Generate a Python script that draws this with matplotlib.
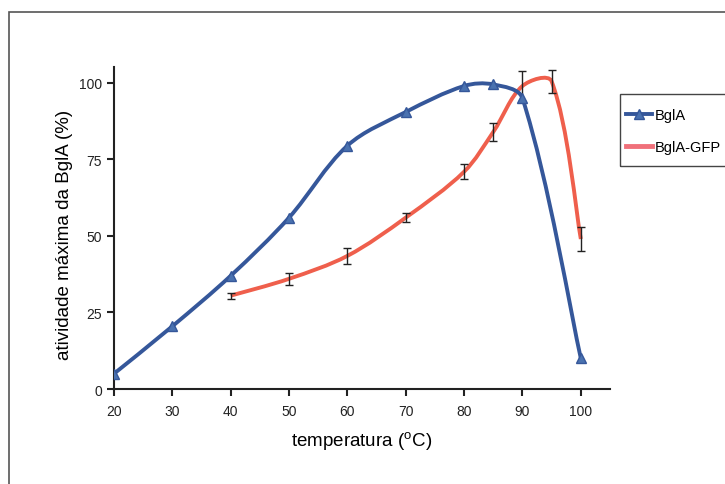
import matplotlib
matplotlib.use("Agg")
import matplotlib.pyplot as plt
import matplotlib.patches as mpatches
from matplotlib.path import Path
from matplotlib.lines import Line2D
import numpy as np

plt.rcParams['font.family'] = ['Liberation Sans', 'DejaVu Sans']
plt.rcParams['mathtext.fontset'] = 'custom'
plt.rcParams['mathtext.rm'] = 'Liberation Sans'

# dados
temp_bgla = [20, 30, 40, 50, 60, 70, 80, 85, 90, 100]
ativ_bgla = [5, 20.5, 37, 56, 79.5, 90.5, 99, 99.5, 95, 10]

temp_gfp = [40, 50, 60, 70, 80, 85, 90, 95, 100]
ativ_gfp = [30.5, 36, 43.5, 56, 71, 84, 99, 100.5, 49]
erro_gfp = [1, 2, 2.5, 1.5, 2.5, 3, 5, 3.7, 4]

xticks = [20, 30, 40, 50, 60, 70, 80, 90, 100]
yticks = [0, 25, 50, 75, 100]

BLUE = '#35579a'
RED = '#ef5f4c'


def smooth_path(ax, xs, ys):
    # curva suavizada estilo Excel: Bezier com tangentes proporcionais
    # ao comprimento dos segmentos (medido em pixels)
    pts = np.column_stack([xs, ys]).astype(float)
    scr = ax.transData.transform(pts)
    n = len(pts)
    tang = []
    for i in range(n):
        a = max(i - 1, 0)
        b = min(i + 1, n - 1)
        tang.append(pts[b] - pts[a])
    seg = [np.hypot(*(scr[i + 1] - scr[i])) for i in range(n - 1)]
    verts = [pts[0]]
    codes = [Path.MOVETO]
    for i in range(n - 1):
        d_prev = seg[i - 1] if i > 0 else seg[i]
        d_next = seg[i + 1] if i + 1 < n - 1 else seg[i]
        f1 = seg[i] / (d_prev + seg[i]) / 3.0 if i > 0 else 1 / 6.0
        f2 = seg[i] / (seg[i] + d_next) / 3.0 if i + 1 < n - 1 else 1 / 6.0
        c1 = pts[i] + tang[i] * f1
        c2 = pts[i + 1] - tang[i + 1] * f2
        verts += [c1, c2, pts[i + 1]]
        codes += [Path.CURVE4] * 3
    return Path(verts, codes)


fig = plt.figure(figsize=(7.25, 4.85), dpi=100)
ax = fig.add_axes([114 / 725, 1 - 390 / 485, 496 / 725, 322 / 485])
ax.set_xlim(20, 105)
ax.set_ylim(0, 105.2)

# moldura externa
fig.patches.append(mpatches.Rectangle((9 / 725, -0.2), 1.2, 1.2 - 13 / 485,
                                      transform=fig.transFigure, fill=False,
                                      edgecolor='#555555', linewidth=1.2))

ax.add_patch(mpatches.PathPatch(smooth_path(ax, temp_gfp, ativ_gfp), fill=False,
                                edgecolor=RED, linewidth=2.8, zorder=2))
ax.errorbar(temp_gfp, ativ_gfp, yerr=erro_gfp, fmt='none', ecolor='#222222',
            elinewidth=1.0, capsize=3, capthick=1.0, zorder=4)

ax.add_patch(mpatches.PathPatch(smooth_path(ax, temp_bgla, ativ_bgla), fill=False,
                                edgecolor=BLUE, linewidth=2.8, zorder=3))
ax.plot(temp_bgla, ativ_bgla, linestyle='none', marker='^', markersize=7,
        markerfacecolor='#4a72b0', markeredgecolor=BLUE, zorder=5)

ax.set_xticks(xticks)
ax.set_yticks(yticks)
for s in ['top', 'right']:
    ax.spines[s].set_visible(False)
for s in ['left', 'bottom']:
    ax.spines[s].set_linewidth(1.5)
    ax.spines[s].set_color('#222222')
ax.tick_params(direction='out', length=5, width=1.5, labelsize=10,
               colors='#222222')
ax.tick_params(axis='x', pad=6)

ax.set_xlabel('temperatura ($^{\\mathrm{o}}$C)', fontsize=13.5, labelpad=8)
ax.set_ylabel('atividade máxima da BglA (%)', fontsize=13.5)
ax.yaxis.set_label_coords(-0.082, 0.482)

# legenda
fig.patches.append(mpatches.Rectangle((620 / 725, 1 - 167 / 485), 0.3, 72 / 485,
                                      transform=fig.transFigure, fill=False,
                                      edgecolor='#444444', linewidth=1.0))
handles = [Line2D([], [], color=BLUE, linewidth=2.8, marker='^', markersize=7,
                  markerfacecolor='#4a72b0', markeredgecolor=BLUE),
           Line2D([], [], color='#f0707a', linewidth=3.5)]
fig.legend(handles, ['BglA', 'BglA-GFP'], loc='upper left',
           bbox_to_anchor=(626 / 725, 1 - 109 / 485), frameon=False,
           fontsize=10.5, handlelength=1.8, handletextpad=0.15,
           labelspacing=1.25, borderpad=0, borderaxespad=0)

fig.savefig('out.png', dpi=100)
